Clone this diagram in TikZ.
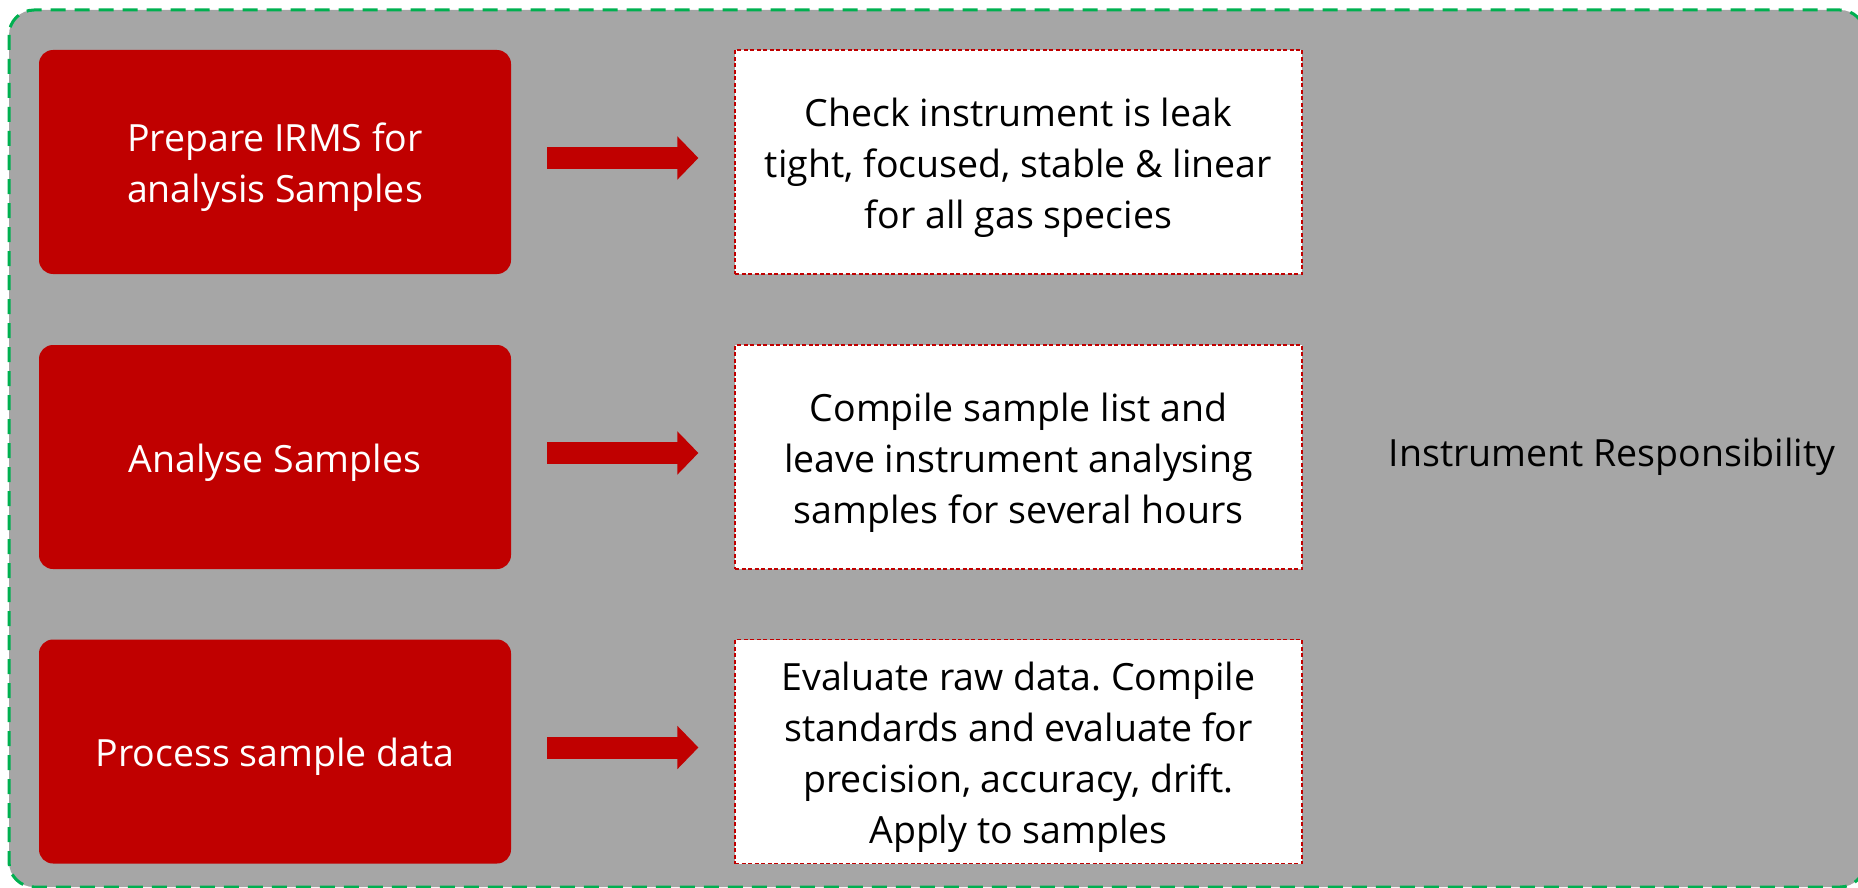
\documentclass[tikz,border=0pt]{standalone}
\usepackage{fontspec}
\setmainfont{Open Sans}
\usetikzlibrary{arrows.meta}
\definecolor{boxred}{HTML}{C00000}
\definecolor{panelgray}{HTML}{A6A6A6}
\definecolor{panelgreen}{HTML}{00B050}
\frenchspacing
\newcommand{\fsTop}{\rule{0pt}{44pt}}
\newcommand{\fsBot}{\rule[-14pt]{0pt}{0pt}}
\begin{document}
\begin{tikzpicture}[x=1pt,y=-1pt,
  stepbox/.style={fill=boxred, rounded corners=14pt, minimum width=472pt, minimum height=224pt,
    text=white, align=center, inner sep=0pt, font=\fontsize{37.5}{51}\selectfont},
  notebox/.style={fill=white, draw=boxred, dash pattern=on 4pt off 2.5pt, line width=1.2pt,
    minimum width=567pt, minimum height=224pt, text=black, align=center, inner sep=0pt,
    font=\fontsize{37.5}{51}\selectfont},
  flowarrow/.style={draw=boxred, line width=22pt, -{Triangle[length=21pt,width=42pt]},
    shorten <=36pt, shorten >=36pt},
  labeltext/.style={text=black, font=\fontsize{37.5}{51}\selectfont, inner sep=0pt}]
\useasboundingbox (0,0) rectangle (1858,888);
\clip (0,0) rectangle (1858,888);
\draw[fill=panelgray, draw=panelgreen, line width=3pt, dash pattern=on 15pt off 9pt, rounded corners=25pt]
  (9,10) rectangle (1865,887);
\node[stepbox] (r1) at (275,162) {\fsTop Prepare IRMS for\\analysis Samples\fsBot};
\node[stepbox] (r2) at (275,457) {\fsTop Analyse Samples\fsBot};
\node[stepbox] (r3) at (275,751.5) {\fsTop Process sample data\fsBot};
\node[notebox] (w1) at (1018.5,162) {\fsTop Check instrument is leak\\tight, focused, stable \& linear\\for all gas species\fsBot};
\node[notebox] (w2) at (1018.5,457) {\fsTop Compile sample list and\\leave instrument analysing\\samples for several hours\fsBot};
\node[notebox] (w3) at (1018.5,751.5) {\fsTop Evaluate raw data. Compile\\standards and evaluate for\\precision, accuracy, drift.\\Apply to samples\fsBot};
\draw[flowarrow] ([yshift=4pt]r1.east) -- ([yshift=4pt]w1.west);
\draw[flowarrow] ([yshift=4pt]r2.east) -- ([yshift=4pt]w2.west);
\draw[flowarrow] ([yshift=4pt]r3.east) -- ([yshift=4pt]w3.west);
\node[labeltext, anchor=base] (resp) at (1612,466) {Instrument Responsibility};
\end{tikzpicture}
\end{document}
